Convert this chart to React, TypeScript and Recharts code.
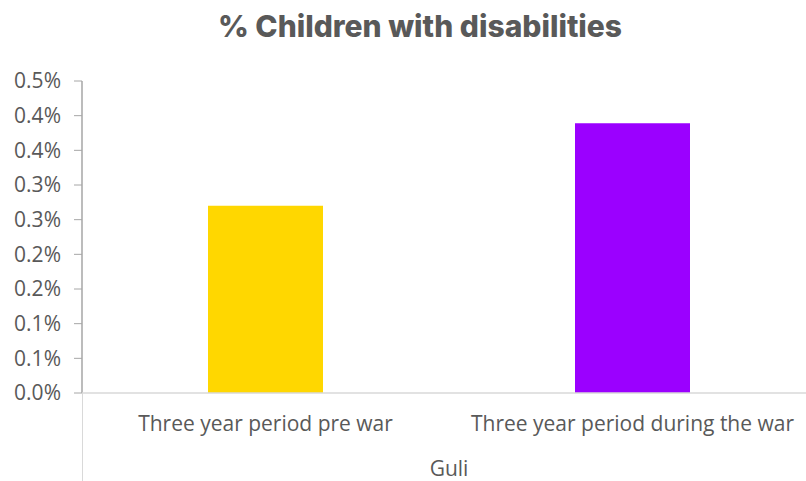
import React from 'react';
import { BarChart, Bar, XAxis, YAxis, Cell } from 'recharts';

const categories = ['Three year period pre war', 'Three year period during the war'];
const values = [0.27, 0.389];
const barColors = ['#FFD700', '#9B00FF'];
const yTicks = [0, 0.05, 0.1, 0.15, 0.2, 0.25, 0.3, 0.35, 0.4, 0.45];
const yTickLabels = ['0.0%', '0.1%', '0.1%', '0.2%', '0.2%', '0.3%', '0.3%', '0.4%', '0.4%', '0.5%'];
const title = '% Children with disabilities';
const groupLabel = 'Guli';

const data = categories.map((c, i) => ({ name: c, value: values[i] }));

export default function App() {
  const font = '"Open Sans", sans-serif';
  return (
    <div style={{ position: 'absolute', left: 0, top: 0, width: 806, height: 481, background: '#fff' }}>
      <div
        style={{
          position: 'absolute',
          left: 0,
          top: 8,
          width: 840,
          textAlign: 'center',
          fontFamily: 'Inter, sans-serif',
          fontWeight: 800,
          fontSize: 30,
          color: '#595959',
          letterSpacing: 0,
        }}
      >
        {title}
      </div>
      <BarChart
        width={806}
        height={481}
        data={data}
        margin={{ top: 81, right: -10, bottom: 0, left: 0 }}
        barSize={115}
      >
        <YAxis
          width={82}
          domain={[0, 0.45]}
          ticks={yTicks}
          tickFormatter={(v: number, i: number) => yTickLabels[i]}
          axisLine={{ stroke: '#a6a6a6', strokeWidth: 1.5 }}
          tickLine={{ stroke: '#a6a6a6' }}
          tickSize={8}
          tickMargin={13}
          tick={{ fill: '#595959', fontSize: 21, fontFamily: font }}
          interval={0}
        />
        <XAxis
          dataKey="name"
          height={88}
          axisLine={{ stroke: '#d9d9d9', strokeWidth: 1.5 }}
          tickLine={false}
          tickSize={0}
          tickMargin={23}
          tick={{ fill: '#595959', fontSize: 21, fontFamily: font }}
          interval={0}
          label={{ value: groupLabel, position: 'insideBottom', offset: 5, fill: '#595959', fontSize: 21, fontFamily: font }}
        />
        <Bar dataKey="value" isAnimationActive={false}>
          {data.map((d, i) => (
            <Cell key={d.name} fill={barColors[i]} />
          ))}
        </Bar>
      </BarChart>
      <div style={{ position: 'absolute', left: 82, top: 393, width: 1, height: 88, background: '#d9d9d9' }} />
    </div>
  );
}
